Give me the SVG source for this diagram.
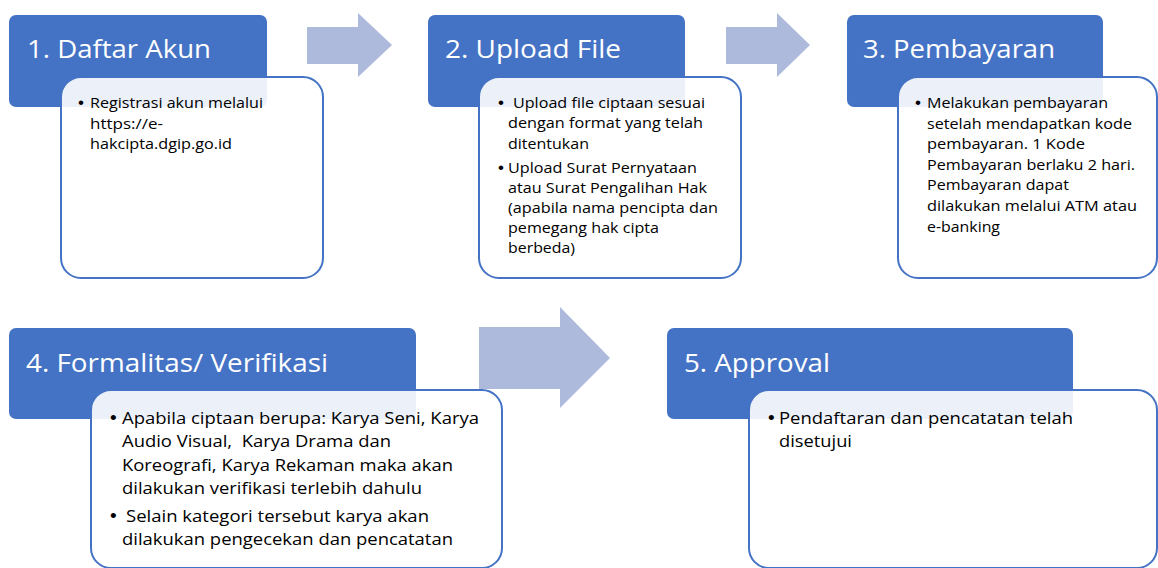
<svg xmlns="http://www.w3.org/2000/svg" width="1158" height="568" viewBox="0 0 1158 568">
<style>
.hdr{fill:#4472C4}
.body{fill:#FFFFFF;fill-opacity:0.9;stroke:#4472C4;stroke-width:2}
.arrow{fill:#AEBADC}
.ht{font-family:"Open Sans","Noto Sans",sans-serif;font-size:26px;fill:#FFFFFF}
.bt{font-family:"Open Sans","Noto Sans",sans-serif;font-size:15px;fill:#000000}
.bb{font-family:"Open Sans","Noto Sans",sans-serif;font-size:17px;fill:#000000}
.bu{font-family:"Liberation Sans",Arial,sans-serif;font-size:17px;fill:#000000}
.bu2{font-family:"Liberation Sans",Arial,sans-serif;font-size:19px;fill:#000000}
</style>
<rect width="1158" height="568" fill="#FFFFFF"/>
<g id="connectors">
<polygon class="arrow" points="307,27 358,27 358,13 392,45 358,77 358,64 307,64"/>
<polygon class="arrow" points="726,27 777,27 777,13 810,45 777,77 777,64 726,64"/>
<polygon class="arrow" points="479,327 560,327 560,307 610,358 560,408 560,389 479,389"/>
</g>
<g id="node1">
<rect class="hdr" x="9" y="15" width="258" height="92" rx="7"/>
<text class="ht" x="27" y="58" textLength="184" lengthAdjust="spacingAndGlyphs">1. Daftar Akun</text>
<rect class="body" x="61" y="77" width="262" height="201" rx="20"/>
<text class="bu" x="78" y="108">•</text>
<text class="bt" x="90" y="108" textLength="173" lengthAdjust="spacingAndGlyphs">Registrasi akun melalui</text>
<text class="bt" x="90" y="128.5" textLength="73" lengthAdjust="spacingAndGlyphs">https://e-</text>
<text class="bt" x="90" y="149" textLength="142" lengthAdjust="spacingAndGlyphs">hakcipta.dgip.go.id</text>
</g>
<g id="node2">
<rect class="hdr" x="428" y="15" width="257" height="92" rx="7"/>
<text class="ht" x="445" y="58" textLength="176" lengthAdjust="spacingAndGlyphs">2. Upload File</text>
<rect class="body" x="479" y="77" width="262" height="201" rx="20"/>
<text class="bu" x="498" y="108">•</text>
<text class="bt" x="513" y="108" textLength="192" lengthAdjust="spacingAndGlyphs">Upload file ciptaan sesuai</text>
<text class="bt" x="508" y="128.3" textLength="195" lengthAdjust="spacingAndGlyphs">dengan format yang telah</text>
<text class="bt" x="508" y="148.5" textLength="81" lengthAdjust="spacingAndGlyphs">ditentukan</text>
<text class="bu" x="498" y="173.3">•</text>
<text class="bt" x="508" y="173.3" textLength="189" lengthAdjust="spacingAndGlyphs">Upload Surat Pernyataan</text>
<text class="bt" x="508" y="193.3" textLength="199" lengthAdjust="spacingAndGlyphs">atau Surat Pengalihan Hak</text>
<text class="bt" x="508" y="213.3" textLength="210" lengthAdjust="spacingAndGlyphs">(apabila nama pencipta dan</text>
<text class="bt" x="508" y="233.3" textLength="151" lengthAdjust="spacingAndGlyphs">pemegang hak cipta</text>
<text class="bt" x="508" y="253.3" textLength="67" lengthAdjust="spacingAndGlyphs">berbeda)</text>
</g>
<g id="node3">
<rect class="hdr" x="847" y="15" width="256" height="92" rx="7"/>
<text class="ht" x="863" y="58" textLength="192" lengthAdjust="spacingAndGlyphs">3. Pembayaran</text>
<rect class="body" x="898" y="77" width="259" height="201" rx="20"/>
<text class="bu" x="915" y="108">•</text>
<text class="bt" x="927" y="108.3" textLength="181" lengthAdjust="spacingAndGlyphs">Melakukan pembayaran</text>
<text class="bt" x="927" y="128.5" textLength="205" lengthAdjust="spacingAndGlyphs">setelah mendapatkan kode</text>
<text class="bt" x="927" y="149" textLength="158" lengthAdjust="spacingAndGlyphs">pembayaran. 1 Kode</text>
<text class="bt" x="927" y="169.8" textLength="208" lengthAdjust="spacingAndGlyphs">Pembayaran berlaku 2 hari.</text>
<text class="bt" x="927" y="190.3" textLength="142" lengthAdjust="spacingAndGlyphs">Pembayaran dapat</text>
<text class="bt" x="927" y="211.3" textLength="210" lengthAdjust="spacingAndGlyphs">dilakukan melalui ATM atau</text>
<text class="bt" x="927" y="231.7" textLength="73" lengthAdjust="spacingAndGlyphs">e-banking</text>
</g>
<g id="node4">
<rect class="hdr" x="9" y="328" width="407" height="91" rx="7"/>
<text class="ht" x="26" y="372" textLength="302" lengthAdjust="spacingAndGlyphs">4. Formalitas/ Verifikasi</text>
<rect class="body" x="91" y="390" width="411" height="178" rx="20"/>
<text class="bu2" x="110" y="424">•</text>
<text class="bb" x="122" y="424" textLength="357" lengthAdjust="spacingAndGlyphs">Apabila ciptaan berupa: Karya Seni, Karya</text>
<text class="bb" x="122" y="447.3" textLength="269" lengthAdjust="spacingAndGlyphs" xml:space="preserve">Audio Visual,  Karya Drama dan</text>
<text class="bb" x="122" y="470.7" textLength="331" lengthAdjust="spacingAndGlyphs">Koreografi, Karya Rekaman maka akan</text>
<text class="bb" x="122" y="494" textLength="300" lengthAdjust="spacingAndGlyphs">dilakukan verifikasi terlebih dahulu</text>
<text class="bu2" x="110" y="521.7">•</text>
<text class="bb" x="126" y="521.7" textLength="303" lengthAdjust="spacingAndGlyphs">Selain kategori tersebut karya akan</text>
<text class="bb" x="122" y="545" textLength="331" lengthAdjust="spacingAndGlyphs">dilakukan pengecekan dan pencatatan</text>
</g>
<g id="node5">
<rect class="hdr" x="667" y="328" width="406" height="91" rx="7"/>
<text class="ht" x="684" y="372" textLength="146" lengthAdjust="spacingAndGlyphs">5. Approval</text>
<rect class="body" x="749" y="390" width="408" height="178" rx="20"/>
<text class="bu2" x="768" y="424">•</text>
<text class="bb" x="779" y="424" textLength="294" lengthAdjust="spacingAndGlyphs">Pendaftaran dan pencatatan telah</text>
<text class="bb" x="779" y="447.3" textLength="73" lengthAdjust="spacingAndGlyphs">disetujui</text>
</g>
</svg>
